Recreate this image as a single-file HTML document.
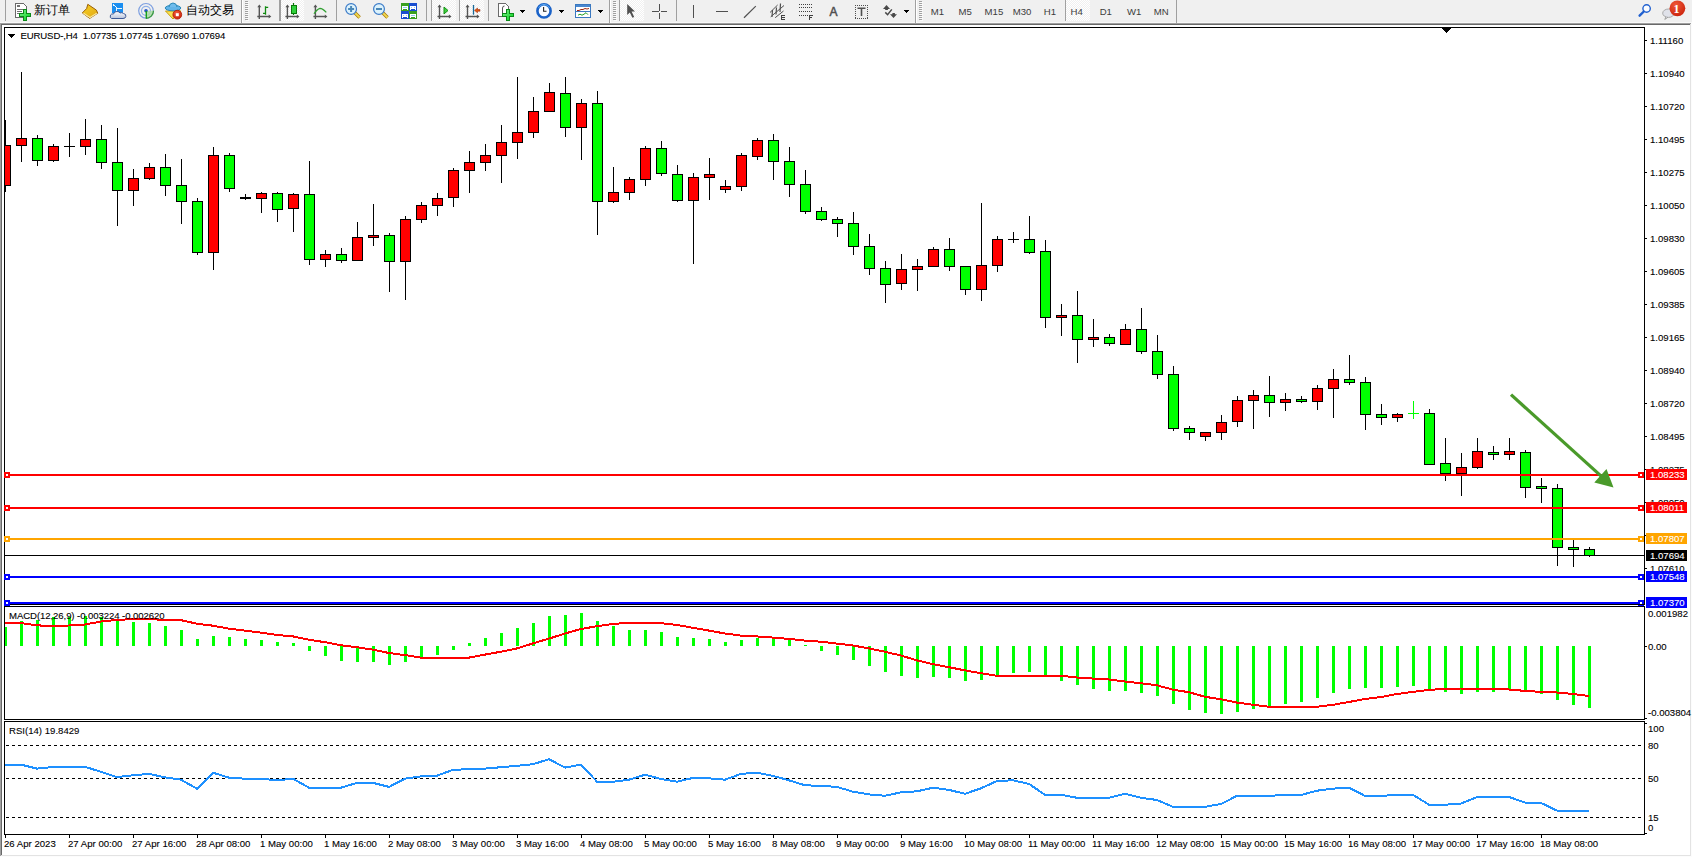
<!DOCTYPE html>
<html><head><meta charset="utf-8"><title>EURUSD-,H4</title>
<style>
html,body{margin:0;padding:0;width:1692px;height:857px;overflow:hidden;background:#fcfcfc;}
svg{position:absolute;left:0;top:0;display:block;}
.t{font-family:"Liberation Sans", Tahoma, Arial, sans-serif;font-size:9.6px;fill:#000;stroke:#000;stroke-width:0.1px;}
.p{letter-spacing:0px;}
.w{fill:#fff;stroke:#fff;}
text{font-family:"Liberation Sans", Tahoma, Arial, sans-serif;}
</style></head><body>
<svg width="1692" height="857" viewBox="0 0 1692 857" shape-rendering="crispEdges">
<g id="toolbar">
<rect x="0" y="0" width="1692" height="22" fill="#f0f0f0"/>
<rect x="0" y="22" width="1692" height="1" fill="#f9f9f9"/>
<defs><pattern id="chk" width="2" height="2" patternUnits="userSpaceOnUse"><rect width="2" height="2" fill="#f0f0f0"/><rect width="1" height="1" fill="#ffffff"/><rect x="1" y="1" width="1" height="1" fill="#ffffff"/></pattern><linearGradient id="gplus" x1="0" y1="0" x2="1" y2="1"><stop offset="0" stop-color="#7ef08a"/><stop offset="1" stop-color="#06d21e"/></linearGradient><linearGradient id="gbook" x1="0" y1="0" x2="1" y2="1"><stop offset="0" stop-color="#f8d020"/><stop offset="1" stop-color="#e0a818"/></linearGradient><linearGradient id="gcloud" x1="0" y1="0" x2="0" y2="1"><stop offset="0" stop-color="#ffffff"/><stop offset="1" stop-color="#b8c4dc"/></linearGradient><radialGradient id="gred" cx="0.4" cy="0.3" r="0.8"><stop offset="0" stop-color="#f05a3a"/><stop offset="1" stop-color="#c81e08"/></radialGradient></defs>
<rect x="5" y="0" width="1" height="21" fill="#a0a0a0"/>
<path d="M15.5 3.5h8l3 3v11h-11z" fill="#ffffff" stroke="#6a6a6a" stroke-width="1"/>
<rect x="17" y="5" width="3" height="2" fill="#707070"/>
<path d="M17 9.5h6M17 11.5h5M17 13.5h2" stroke="#707070" stroke-width="1"/>
<path d="M23 9h4v4h4v4h-4v4h-4v-4h-4v-4h4z" fill="#0b8a18"/>
<path d="M24 10h2v4h4v2h-4v4h-2v-4h-4v-2h4z" fill="url(#gplus)"/>
<text x="34" y="13.5" font-size="12" style="font-family:"Liberation Sans", "Noto Sans CJK SC", "WenQuanYi Zen Hei", sans-serif">新订单</text>
<path d="M87.8 4.3 L96.4 10.1 L97.7 13.2 L89.7 18.4 L82.3 12.9 L86.6 8.6 Z" fill="url(#gbook)" stroke="#9a6008" stroke-width="1" shape-rendering="auto"/>
<path d="M83.5 13.2 L90 17.6 L96.8 13.2" fill="none" stroke="#f8e8a0" stroke-width="1.2" shape-rendering="auto"/>
<rect x="112" y="3" width="11" height="10" fill="#1a8ef0"/><path d="M113 4.5l3 2.5v6M117 8.5h5" stroke="#e8f6ff" stroke-width="1" fill="none"/>
<path d="M111.5 18.5 Q109.5 18 110.5 15 Q111.5 13.5 113.5 14 Q114 11.5 117 11.5 Q119.5 11.5 120 13 Q122 12 123.5 13.5 Q126.5 14 125.8 16.5 Q125.5 18.5 123 18.5 Z" fill="url(#gcloud)" stroke="#3d5a96" stroke-width="1" shape-rendering="auto"/>
<g shape-rendering="auto"><circle cx="146" cy="10.8" r="7.3" fill="none" stroke="#7d9fe0" stroke-width="1.2"/><circle cx="146" cy="10.8" r="4.5" fill="none" stroke="#8fb0e8" stroke-width="1.2"/><path d="M146 10.8 L146 18.3 A7.5 7.5 0 0 0 153.5 10.8 Z" fill="#a8dca0" opacity="0.8"/><path d="M146 18.3 A7.5 7.5 0 0 0 153.5 10.8" fill="none" stroke="#3a9a3a" stroke-width="1.2"/><circle cx="146" cy="10.8" r="1.8" fill="#2858c8"/><path d="M146.3 11 V18.6" stroke="#18a018" stroke-width="1.4"/></g>
<g shape-rendering="auto"><path d="M165.5 11 L181 11 L173 19 Z" fill="#f8e050" stroke="#c8a010" stroke-width="1"/><ellipse cx="173" cy="8" rx="7.8" ry="2.8" fill="#62b4e8" stroke="#2a88b8" stroke-width="1"/><path d="M169 7 Q169.5 3 173 3 Q176.5 3 177 7" fill="#70bcec" stroke="#2a88b8" stroke-width="1"/><circle cx="177.3" cy="14.7" r="4.4" fill="url(#gred)" stroke="#b01800" stroke-width="0.8"/><rect x="175.8" y="13.2" width="3" height="3" fill="#ffffff"/></g>
<text x="186" y="13.5" font-size="12" style="font-family:"Liberation Sans", "Noto Sans CJK SC", "WenQuanYi Zen Hei", sans-serif">自动交易</text>
<rect x="241" y="0" width="1" height="23" fill="#a0a0a0"/>
<rect x="242" y="0" width="1" height="23" fill="#ffffff"/>
<rect x="245" y="1" width="3" height="1" fill="#a0a0a0"/>
<rect x="246" y="2" width="3" height="1" fill="#fbfbfb"/>
<rect x="245" y="3" width="3" height="1" fill="#a0a0a0"/>
<rect x="246" y="4" width="3" height="1" fill="#fbfbfb"/>
<rect x="245" y="5" width="3" height="1" fill="#a0a0a0"/>
<rect x="246" y="6" width="3" height="1" fill="#fbfbfb"/>
<rect x="245" y="7" width="3" height="1" fill="#a0a0a0"/>
<rect x="246" y="8" width="3" height="1" fill="#fbfbfb"/>
<rect x="245" y="9" width="3" height="1" fill="#a0a0a0"/>
<rect x="246" y="10" width="3" height="1" fill="#fbfbfb"/>
<rect x="245" y="11" width="3" height="1" fill="#a0a0a0"/>
<rect x="246" y="12" width="3" height="1" fill="#fbfbfb"/>
<rect x="245" y="13" width="3" height="1" fill="#a0a0a0"/>
<rect x="246" y="14" width="3" height="1" fill="#fbfbfb"/>
<rect x="245" y="15" width="3" height="1" fill="#a0a0a0"/>
<rect x="246" y="16" width="3" height="1" fill="#fbfbfb"/>
<rect x="245" y="17" width="3" height="1" fill="#a0a0a0"/>
<rect x="246" y="18" width="3" height="1" fill="#fbfbfb"/>
<rect x="245" y="19" width="3" height="1" fill="#a0a0a0"/>
<rect x="246" y="20" width="3" height="1" fill="#fbfbfb"/>
<g shape-rendering="auto" stroke="#555" fill="#555"><path d="M259.3 6V19M257.3 16.5H269.3" stroke-width="1.4" fill="none"/><path d="M257.3 7.2 L259.3 4.6 L261.3 7.2 Z" stroke="none"/><path d="M268.7 14.5 L271.3 16.5 L268.7 18.5 Z" stroke="none"/></g>
<path d="M265.5 6.2V14.8M265.5 7.4H268.2M263 13.4H265.5" stroke="#108a10" stroke-width="1.3" fill="none" shape-rendering="auto"/>
<rect x="279" y="0" width="1" height="21" fill="#a0a0a0"/>
<rect x="280" y="0" width="24" height="21" fill="url(#chk)"/>
<rect x="280" y="0" width="1" height="21" fill="#a0a0a0"/>
<g shape-rendering="auto" stroke="#555" fill="#555"><path d="M287.4 6V19M285.4 16.5H297.4" stroke-width="1.4" fill="none"/><path d="M285.4 7.2 L287.4 4.6 L289.4 7.2 Z" stroke="none"/><path d="M296.79999999999995 14.5 L299.4 16.5 L296.79999999999995 18.5 Z" stroke="none"/></g>
<path d="M293.5 3V15" stroke="#0a7a0a" stroke-width="1.2" shape-rendering="auto"/>
<rect x="291" y="5" width="5" height="8" fill="#2ed03a" stroke="#0a7a0a" stroke-width="1"/>
<g shape-rendering="auto" stroke="#555" fill="#555"><path d="M315.4 6V19M313.4 16.5H325.4" stroke-width="1.4" fill="none"/><path d="M313.4 7.2 L315.4 4.6 L317.4 7.2 Z" stroke="none"/><path d="M324.79999999999995 14.5 L327.4 16.5 L324.79999999999995 18.5 Z" stroke="none"/></g>
<path d="M314 13.8 Q317 9 320 8.3 Q322.5 8.3 326.3 12.3" stroke="#30a030" stroke-width="1.2" fill="none" shape-rendering="auto"/>
<rect x="336" y="0" width="1" height="21" fill="#a0a0a0"/>
<g shape-rendering="auto"><path d="M354.6 12.5 L359.6 17.5" stroke="#a87808" stroke-width="3.4"/><path d="M354.6 12.5 L359.6 17.5" stroke="#f0d850" stroke-width="1.8"/><circle cx="351.1" cy="9" r="5.4" fill="#dcf2fc" stroke="#3a7ac8" stroke-width="1.2"/><path d="M348.1 9H354.1" stroke="#4a88b8" stroke-width="2"/><path d="M351.1 6V12" stroke="#4a88b8" stroke-width="2"/></g>
<g shape-rendering="auto"><path d="M382.5 12.5 L387.5 17.5" stroke="#a87808" stroke-width="3.4"/><path d="M382.5 12.5 L387.5 17.5" stroke="#f0d850" stroke-width="1.8"/><circle cx="379" cy="9" r="5.4" fill="#dcf2fc" stroke="#3a7ac8" stroke-width="1.2"/><path d="M376 9H382" stroke="#4a88b8" stroke-width="2"/></g>
<rect x="401" y="3" width="8" height="8" fill="#3aa020"/><rect x="409" y="3" width="8" height="8" fill="#1a4ed0"/>
<rect x="401" y="11" width="8" height="8" fill="#1a4ed0"/><rect x="409" y="11" width="8" height="8" fill="#3aa020"/>
<path d="M402 6h6v4h-1v-1h-4v1h-1zM410 6h6v4h-1v-1h-4v1h-1zM402 14h6v4h-1v-1h-4v1h-1zM410 14h6v4h-1v-1h-4v1h-1z" fill="#ffffff"/>
<path d="M403 7.5h4M411 7.5h1M414 7.5h1M403 15.5h1M406 15.5h1M411 15.5h4" stroke="#90c8f0" stroke-width="1"/>
<rect x="426" y="0" width="1" height="21" fill="#a0a0a0"/>
<rect x="431" y="0" width="25" height="21" fill="url(#chk)"/>
<rect x="431" y="0" width="1" height="21" fill="#a0a0a0"/>
<g shape-rendering="auto" stroke="#555" fill="#555"><path d="M439.5 6V19M437.5 16.5H449.5" stroke-width="1.4" fill="none"/><path d="M437.5 7.2 L439.5 4.6 L441.5 7.2 Z" stroke="none"/><path d="M448.9 14.5 L451.5 16.5 L448.9 18.5 Z" stroke="none"/></g>
<path d="M444 7 L448 10.5 L444 14 Z" fill="#40d040" stroke="#109010" stroke-width="1" shape-rendering="auto"/>
<rect x="459" y="0" width="25" height="21" fill="url(#chk)"/>
<rect x="459" y="0" width="1" height="21" fill="#a0a0a0"/>
<g shape-rendering="auto" stroke="#555" fill="#555"><path d="M467.5 6V19M465.5 16.5H477.5" stroke-width="1.4" fill="none"/><path d="M465.5 7.2 L467.5 4.6 L469.5 7.2 Z" stroke="none"/><path d="M476.9 14.5 L479.5 16.5 L476.9 18.5 Z" stroke="none"/></g>
<path d="M473.5 5V14.7" stroke="#1a6a9a" stroke-width="1.3" shape-rendering="auto"/>
<path d="M474.5 10.4 L477.5 8 L477.5 9.6 L480 9.6 L480 11.2 L477.5 11.2 L477.5 12.8 Z" fill="#e85a10" stroke="#902000" stroke-width="0.5" shape-rendering="auto"/>
<rect x="488" y="0" width="1" height="21" fill="#a0a0a0"/>
<path d="M498.5 3.5h7l3 3v10h-10z" fill="#ffffff" stroke="#6a6a6a" stroke-width="1"/>
<path d="M502.5 14 V8 Q502.5 6 504.5 6" stroke="#555" stroke-width="1" fill="none" shape-rendering="auto"/>
<path d="M506 9h4v4h4v4h-4v4h-4v-4h-4v-4h4z" fill="#0b8a18"/>
<path d="M507 10h2v4h4v2h-4v4h-2v-4h-4v-2h4z" fill="url(#gplus)"/>
<path d="M520 10h5v1h-1v1h-1v1h-1v-1h-1v-1h-1z" fill="#000"/>
<g shape-rendering="auto"><circle cx="544" cy="10.9" r="6.6" fill="#f8fbff" stroke="#1a62c8" stroke-width="2.6"/><path d="M538.5 8 A6 6 0 0 1 549.5 8" fill="none" stroke="#5aa8f0" stroke-width="1"/><path d="M543.6 7V11.2H546.5" stroke="#222" stroke-width="1.1" fill="none"/></g>
<path d="M559 10h5v1h-1v1h-1v1h-1v-1h-1v-1h-1z" fill="#000"/>
<rect x="575.5" y="4.5" width="15" height="13" fill="#ffffff" stroke="#3a78c0"/>
<rect x="576" y="5" width="14" height="2" fill="#4a88d0"/><rect x="576" y="11" width="14" height="1" fill="#3a78c0"/>
<path d="M577 10.5l2 0 2-1 2 0 2-1 2 0.5 2-0.5" stroke="#a02810" fill="none" stroke-width="1" shape-rendering="auto"/>
<path d="M578 15.2l2-1 2 1 2-1 2-1.5 2 2" stroke="#20a020" fill="none" stroke-width="1" shape-rendering="auto"/>
<path d="M598 10h5v1h-1v1h-1v1h-1v-1h-1v-1h-1z" fill="#000"/>
<rect x="609" y="0" width="1" height="23" fill="#a0a0a0"/>
<rect x="610" y="0" width="1" height="23" fill="#ffffff"/>
<rect x="613" y="1" width="3" height="1" fill="#a0a0a0"/>
<rect x="614" y="2" width="3" height="1" fill="#fbfbfb"/>
<rect x="613" y="3" width="3" height="1" fill="#a0a0a0"/>
<rect x="614" y="4" width="3" height="1" fill="#fbfbfb"/>
<rect x="613" y="5" width="3" height="1" fill="#a0a0a0"/>
<rect x="614" y="6" width="3" height="1" fill="#fbfbfb"/>
<rect x="613" y="7" width="3" height="1" fill="#a0a0a0"/>
<rect x="614" y="8" width="3" height="1" fill="#fbfbfb"/>
<rect x="613" y="9" width="3" height="1" fill="#a0a0a0"/>
<rect x="614" y="10" width="3" height="1" fill="#fbfbfb"/>
<rect x="613" y="11" width="3" height="1" fill="#a0a0a0"/>
<rect x="614" y="12" width="3" height="1" fill="#fbfbfb"/>
<rect x="613" y="13" width="3" height="1" fill="#a0a0a0"/>
<rect x="614" y="14" width="3" height="1" fill="#fbfbfb"/>
<rect x="613" y="15" width="3" height="1" fill="#a0a0a0"/>
<rect x="614" y="16" width="3" height="1" fill="#fbfbfb"/>
<rect x="613" y="17" width="3" height="1" fill="#a0a0a0"/>
<rect x="614" y="18" width="3" height="1" fill="#fbfbfb"/>
<rect x="613" y="19" width="3" height="1" fill="#a0a0a0"/>
<rect x="614" y="20" width="3" height="1" fill="#fbfbfb"/>
<rect x="619" y="0" width="25" height="21" fill="url(#chk)"/>
<rect x="619" y="0" width="1" height="21" fill="#a0a0a0"/>
<path d="M627.2 4 L627.2 15 L629.8 12.4 L632.4 17.8 L634.2 17 L631.6 11.6 L635 11.6 Z" fill="#505050" shape-rendering="auto"/>
<path d="M659.5 4V10.5M659.5 12.5V19M652 11.5H658.5M660.5 11.5H667" stroke="#505050" stroke-width="1"/>
<rect x="676" y="0" width="1" height="21" fill="#a0a0a0"/>
<path d="M693.5 5V18" stroke="#505050" stroke-width="1.2"/>
<path d="M716 11.5H728" stroke="#505050" stroke-width="1.2"/>
<path d="M744 17.7 L755.8 6.1" stroke="#505050" stroke-width="1.2" shape-rendering="auto"/>
<g shape-rendering="auto" stroke="#505050" stroke-width="1" fill="none"><path d="M770 12.5 L777.6 5 M770.7 16.8 L784 5.5 M775.2 17.7 L783.5 11"/><path d="M772.5 10 L772 17 M776.5 7.5 L776 14.5 M780.5 3.5 L780 12" stroke-width="1.2"/></g>
<path d="M781 15h4v1h-3v1h3v1h-3v1h3v1h-4z" fill="#404040"/>
<rect x="799" y="4" width="1" height="1" fill="#404040"/>
<rect x="801" y="4" width="1" height="1" fill="#404040"/>
<rect x="803" y="4" width="1" height="1" fill="#404040"/>
<rect x="805" y="4" width="1" height="1" fill="#404040"/>
<rect x="807" y="4" width="1" height="1" fill="#404040"/>
<rect x="809" y="4" width="1" height="1" fill="#404040"/>
<rect x="811" y="4" width="1" height="1" fill="#404040"/>
<rect x="799" y="7" width="1" height="1" fill="#404040"/>
<rect x="801" y="7" width="1" height="1" fill="#404040"/>
<rect x="803" y="7" width="1" height="1" fill="#404040"/>
<rect x="805" y="7" width="1" height="1" fill="#404040"/>
<rect x="807" y="7" width="1" height="1" fill="#404040"/>
<rect x="809" y="7" width="1" height="1" fill="#404040"/>
<rect x="811" y="7" width="1" height="1" fill="#404040"/>
<rect x="799" y="11" width="1" height="1" fill="#404040"/>
<rect x="801" y="11" width="1" height="1" fill="#404040"/>
<rect x="803" y="11" width="1" height="1" fill="#404040"/>
<rect x="805" y="11" width="1" height="1" fill="#404040"/>
<rect x="807" y="11" width="1" height="1" fill="#404040"/>
<rect x="809" y="11" width="1" height="1" fill="#404040"/>
<rect x="811" y="11" width="1" height="1" fill="#404040"/>
<rect x="799" y="15" width="1" height="1" fill="#404040"/>
<rect x="801" y="15" width="1" height="1" fill="#404040"/>
<rect x="803" y="15" width="1" height="1" fill="#404040"/>
<rect x="805" y="15" width="1" height="1" fill="#404040"/>
<rect x="807" y="15" width="1" height="1" fill="#404040"/>
<path d="M809 15h4v1h-3v1h2v1h-2v2h-1z" fill="#404040"/>
<text x="829.4" y="16" font-size="12" fill="#505050" stroke="#505050" stroke-width="0.5" style="font-family:"Liberation Sans", Tahoma, Arial, sans-serif">A</text>
<rect x="855" y="5" width="1" height="1" fill="#505050"/><rect x="855" y="18" width="1" height="1" fill="#505050"/>
<rect x="857" y="5" width="1" height="1" fill="#505050"/><rect x="857" y="18" width="1" height="1" fill="#505050"/>
<rect x="859" y="5" width="1" height="1" fill="#505050"/><rect x="859" y="18" width="1" height="1" fill="#505050"/>
<rect x="861" y="5" width="1" height="1" fill="#505050"/><rect x="861" y="18" width="1" height="1" fill="#505050"/>
<rect x="863" y="5" width="1" height="1" fill="#505050"/><rect x="863" y="18" width="1" height="1" fill="#505050"/>
<rect x="865" y="5" width="1" height="1" fill="#505050"/><rect x="865" y="18" width="1" height="1" fill="#505050"/>
<rect x="867" y="5" width="1" height="1" fill="#505050"/><rect x="867" y="18" width="1" height="1" fill="#505050"/>
<rect x="855" y="5" width="1" height="1" fill="#505050"/><rect x="867" y="5" width="1" height="1" fill="#505050"/>
<rect x="855" y="7" width="1" height="1" fill="#505050"/><rect x="867" y="7" width="1" height="1" fill="#505050"/>
<rect x="855" y="9" width="1" height="1" fill="#505050"/><rect x="867" y="9" width="1" height="1" fill="#505050"/>
<rect x="855" y="11" width="1" height="1" fill="#505050"/><rect x="867" y="11" width="1" height="1" fill="#505050"/>
<rect x="855" y="13" width="1" height="1" fill="#505050"/><rect x="867" y="13" width="1" height="1" fill="#505050"/>
<rect x="855" y="15" width="1" height="1" fill="#505050"/><rect x="867" y="15" width="1" height="1" fill="#505050"/>
<rect x="855" y="17" width="1" height="1" fill="#505050"/><rect x="867" y="17" width="1" height="1" fill="#505050"/>
<path d="M857.5 7.5h8v1.6h-3.2v7h-1.6v-7h-3.2z" fill="#505050" shape-rendering="auto"/>
<g shape-rendering="auto"><path d="M883 8.9 L886.5 5 L890 8.9 L887.9 8.9 L887.9 10 L885.2 10 L885.2 8.9 Z M890 14.3 L892.4 14.3 L892.4 13.1 L894.9 13.1 L894.9 14.3 L897 14.3 L893.5 18.1 Z" fill="#484848"/><path d="M885.3 12.4 L887.6 14.7 L891.8 9.4" stroke="#484848" fill="none" stroke-width="1.5"/></g>
<path d="M904 10h5v1h-1v1h-1v1h-1v-1h-1v-1h-1z" fill="#000"/>
<rect x="915" y="0" width="1" height="23" fill="#a0a0a0"/>
<rect x="916" y="0" width="1" height="23" fill="#ffffff"/>
<rect x="919" y="1" width="3" height="1" fill="#a0a0a0"/>
<rect x="920" y="2" width="3" height="1" fill="#fbfbfb"/>
<rect x="919" y="3" width="3" height="1" fill="#a0a0a0"/>
<rect x="920" y="4" width="3" height="1" fill="#fbfbfb"/>
<rect x="919" y="5" width="3" height="1" fill="#a0a0a0"/>
<rect x="920" y="6" width="3" height="1" fill="#fbfbfb"/>
<rect x="919" y="7" width="3" height="1" fill="#a0a0a0"/>
<rect x="920" y="8" width="3" height="1" fill="#fbfbfb"/>
<rect x="919" y="9" width="3" height="1" fill="#a0a0a0"/>
<rect x="920" y="10" width="3" height="1" fill="#fbfbfb"/>
<rect x="919" y="11" width="3" height="1" fill="#a0a0a0"/>
<rect x="920" y="12" width="3" height="1" fill="#fbfbfb"/>
<rect x="919" y="13" width="3" height="1" fill="#a0a0a0"/>
<rect x="920" y="14" width="3" height="1" fill="#fbfbfb"/>
<rect x="919" y="15" width="3" height="1" fill="#a0a0a0"/>
<rect x="920" y="16" width="3" height="1" fill="#fbfbfb"/>
<rect x="919" y="17" width="3" height="1" fill="#a0a0a0"/>
<rect x="920" y="18" width="3" height="1" fill="#fbfbfb"/>
<rect x="919" y="19" width="3" height="1" fill="#a0a0a0"/>
<rect x="920" y="20" width="3" height="1" fill="#fbfbfb"/>
<rect x="1065" y="0" width="25" height="21" fill="url(#chk)"/>
<rect x="1065" y="0" width="1" height="21" fill="#a0a0a0"/>
<text x="930.7" y="14.6" font-size="9.6" fill="#3c3c3c" style="font-family:"Liberation Sans", Tahoma, Arial, sans-serif">M1</text>
<text x="958.4" y="14.6" font-size="9.6" fill="#3c3c3c" style="font-family:"Liberation Sans", Tahoma, Arial, sans-serif">M5</text>
<text x="984.6" y="14.6" font-size="9.6" fill="#3c3c3c" style="font-family:"Liberation Sans", Tahoma, Arial, sans-serif">M15</text>
<text x="1012.8" y="14.6" font-size="9.6" fill="#3c3c3c" style="font-family:"Liberation Sans", Tahoma, Arial, sans-serif">M30</text>
<text x="1043.8" y="14.6" font-size="9.6" fill="#3c3c3c" style="font-family:"Liberation Sans", Tahoma, Arial, sans-serif">H1</text>
<text x="1070.5" y="14.6" font-size="9.6" fill="#3c3c3c" style="font-family:"Liberation Sans", Tahoma, Arial, sans-serif">H4</text>
<text x="1099.7" y="14.6" font-size="9.6" fill="#3c3c3c" style="font-family:"Liberation Sans", Tahoma, Arial, sans-serif">D1</text>
<text x="1127" y="14.6" font-size="9.6" fill="#3c3c3c" style="font-family:"Liberation Sans", Tahoma, Arial, sans-serif">W1</text>
<text x="1153.7" y="14.6" font-size="9.6" fill="#3c3c3c" style="font-family:"Liberation Sans", Tahoma, Arial, sans-serif">MN</text>
<rect x="1176" y="0" width="1" height="23" fill="#a0a0a0"/>
<g shape-rendering="auto"><circle cx="1646.6" cy="8.5" r="3.7" fill="#fafcff" stroke="#2060d0" stroke-width="1.4"/><path d="M1643.8 11.5 L1639.6 15.7" stroke="#2060d0" stroke-width="2.4" stroke-linecap="round"/><ellipse cx="1668.5" cy="13.2" rx="5.8" ry="4.2" fill="#e0e2ea" stroke="#a8a8a8"/><path d="M1666 16.8l-1.2 2.6 3.2-2.2" fill="#e0e2ea" stroke="#a0a0a0"/><circle cx="1677.4" cy="8.3" r="7.9" fill="url(#gred)"/></g>
<text x="1673.6" y="12.8" font-size="12" font-weight="bold" fill="#fff" style="font-family:'Liberation Serif', serif">1</text>
</g>
<g id="chart">
<rect x="0" y="23" width="1691" height="1" fill="#a0a0a0"/>
<rect x="0" y="23" width="1" height="833" fill="#a0a0a0"/>
<rect x="1" y="24" width="1689" height="1" fill="#696969"/>
<rect x="1" y="24" width="1" height="831" fill="#696969"/>
<rect x="2" y="25" width="1688" height="830" fill="#ffffff"/>
<rect x="1690" y="24" width="1" height="832" fill="#e3e3e3"/>
<rect x="1" y="855" width="1690" height="1" fill="#e3e3e3"/>
<defs><clipPath id="cm"><rect x="5" y="28" width="1639" height="576"/></clipPath><clipPath id="cd"><rect x="5" y="607" width="1639" height="112"/></clipPath><clipPath id="cr"><rect x="5" y="722" width="1639" height="112"/></clipPath></defs>
<g clip-path="url(#cm)">
<rect x="5" y="120" width="1" height="72" fill="#000"/>
<rect x="0" y="145" width="11" height="41" fill="#000"/>
<rect x="1" y="146" width="9" height="39" fill="#ff0000"/>
<rect x="21" y="72" width="1" height="90" fill="#000"/>
<rect x="16" y="138" width="11" height="8" fill="#000"/>
<rect x="17" y="139" width="9" height="6" fill="#ff0000"/>
<rect x="37" y="135" width="1" height="31" fill="#000"/>
<rect x="32" y="138" width="11" height="23" fill="#000"/>
<rect x="33" y="139" width="9" height="21" fill="#00ff00"/>
<rect x="53" y="144" width="1" height="18" fill="#000"/>
<rect x="48" y="146" width="11" height="15" fill="#000"/>
<rect x="49" y="147" width="9" height="13" fill="#ff0000"/>
<rect x="69" y="133" width="1" height="24" fill="#000"/>
<rect x="64" y="146" width="11" height="1" fill="#000"/>
<rect x="85" y="119" width="1" height="36" fill="#000"/>
<rect x="80" y="139" width="11" height="8" fill="#000"/>
<rect x="81" y="140" width="9" height="6" fill="#ff0000"/>
<rect x="101" y="125" width="1" height="44" fill="#000"/>
<rect x="96" y="139" width="11" height="24" fill="#000"/>
<rect x="97" y="140" width="9" height="22" fill="#00ff00"/>
<rect x="117" y="128" width="1" height="98" fill="#000"/>
<rect x="112" y="162" width="11" height="29" fill="#000"/>
<rect x="113" y="163" width="9" height="27" fill="#00ff00"/>
<rect x="133" y="169" width="1" height="37" fill="#000"/>
<rect x="128" y="178" width="11" height="13" fill="#000"/>
<rect x="129" y="179" width="9" height="11" fill="#ff0000"/>
<rect x="149" y="163" width="1" height="17" fill="#000"/>
<rect x="144" y="167" width="11" height="12" fill="#000"/>
<rect x="145" y="168" width="9" height="10" fill="#ff0000"/>
<rect x="165" y="154" width="1" height="42" fill="#000"/>
<rect x="160" y="167" width="11" height="19" fill="#000"/>
<rect x="161" y="168" width="9" height="17" fill="#00ff00"/>
<rect x="181" y="159" width="1" height="65" fill="#000"/>
<rect x="176" y="185" width="11" height="17" fill="#000"/>
<rect x="177" y="186" width="9" height="15" fill="#00ff00"/>
<rect x="197" y="198" width="1" height="57" fill="#000"/>
<rect x="192" y="201" width="11" height="52" fill="#000"/>
<rect x="193" y="202" width="9" height="50" fill="#00ff00"/>
<rect x="213" y="147" width="1" height="123" fill="#000"/>
<rect x="208" y="155" width="11" height="98" fill="#000"/>
<rect x="209" y="156" width="9" height="96" fill="#ff0000"/>
<rect x="229" y="153" width="1" height="39" fill="#000"/>
<rect x="224" y="155" width="11" height="34" fill="#000"/>
<rect x="225" y="156" width="9" height="32" fill="#00ff00"/>
<rect x="245" y="194" width="1" height="6" fill="#000"/>
<rect x="240" y="197" width="11" height="2" fill="#000"/>
<rect x="261" y="192" width="1" height="21" fill="#000"/>
<rect x="256" y="193" width="11" height="6" fill="#000"/>
<rect x="257" y="194" width="9" height="4" fill="#ff0000"/>
<rect x="277" y="192" width="1" height="30" fill="#000"/>
<rect x="272" y="193" width="11" height="17" fill="#000"/>
<rect x="273" y="194" width="9" height="15" fill="#00ff00"/>
<rect x="293" y="193" width="1" height="39" fill="#000"/>
<rect x="288" y="194" width="11" height="15" fill="#000"/>
<rect x="289" y="195" width="9" height="13" fill="#ff0000"/>
<rect x="309" y="161" width="1" height="104" fill="#000"/>
<rect x="304" y="194" width="11" height="66" fill="#000"/>
<rect x="305" y="195" width="9" height="64" fill="#00ff00"/>
<rect x="325" y="250" width="1" height="17" fill="#000"/>
<rect x="320" y="254" width="11" height="6" fill="#000"/>
<rect x="321" y="255" width="9" height="4" fill="#ff0000"/>
<rect x="341" y="248" width="1" height="15" fill="#000"/>
<rect x="336" y="254" width="11" height="7" fill="#000"/>
<rect x="337" y="255" width="9" height="5" fill="#00ff00"/>
<rect x="357" y="222" width="1" height="39" fill="#000"/>
<rect x="352" y="237" width="11" height="24" fill="#000"/>
<rect x="353" y="238" width="9" height="22" fill="#ff0000"/>
<rect x="373" y="204" width="1" height="42" fill="#000"/>
<rect x="368" y="235" width="11" height="3" fill="#000"/>
<rect x="369" y="236" width="9" height="1" fill="#ff0000"/>
<rect x="389" y="233" width="1" height="59" fill="#000"/>
<rect x="384" y="235" width="11" height="27" fill="#000"/>
<rect x="385" y="236" width="9" height="25" fill="#00ff00"/>
<rect x="405" y="216" width="1" height="84" fill="#000"/>
<rect x="400" y="219" width="11" height="43" fill="#000"/>
<rect x="401" y="220" width="9" height="41" fill="#ff0000"/>
<rect x="421" y="202" width="1" height="21" fill="#000"/>
<rect x="416" y="205" width="11" height="15" fill="#000"/>
<rect x="417" y="206" width="9" height="13" fill="#ff0000"/>
<rect x="437" y="193" width="1" height="23" fill="#000"/>
<rect x="432" y="198" width="11" height="8" fill="#000"/>
<rect x="433" y="199" width="9" height="6" fill="#ff0000"/>
<rect x="453" y="168" width="1" height="39" fill="#000"/>
<rect x="448" y="170" width="11" height="28" fill="#000"/>
<rect x="449" y="171" width="9" height="26" fill="#ff0000"/>
<rect x="469" y="151" width="1" height="42" fill="#000"/>
<rect x="464" y="162" width="11" height="9" fill="#000"/>
<rect x="465" y="163" width="9" height="7" fill="#ff0000"/>
<rect x="485" y="144" width="1" height="27" fill="#000"/>
<rect x="480" y="155" width="11" height="8" fill="#000"/>
<rect x="481" y="156" width="9" height="6" fill="#ff0000"/>
<rect x="501" y="125" width="1" height="58" fill="#000"/>
<rect x="496" y="142" width="11" height="14" fill="#000"/>
<rect x="497" y="143" width="9" height="12" fill="#ff0000"/>
<rect x="517" y="77" width="1" height="82" fill="#000"/>
<rect x="512" y="132" width="11" height="11" fill="#000"/>
<rect x="513" y="133" width="9" height="9" fill="#ff0000"/>
<rect x="533" y="97" width="1" height="41" fill="#000"/>
<rect x="528" y="111" width="11" height="22" fill="#000"/>
<rect x="529" y="112" width="9" height="20" fill="#ff0000"/>
<rect x="549" y="83" width="1" height="29" fill="#000"/>
<rect x="544" y="92" width="11" height="20" fill="#000"/>
<rect x="545" y="93" width="9" height="18" fill="#ff0000"/>
<rect x="565" y="77" width="1" height="60" fill="#000"/>
<rect x="560" y="93" width="11" height="35" fill="#000"/>
<rect x="561" y="94" width="9" height="33" fill="#00ff00"/>
<rect x="581" y="99" width="1" height="61" fill="#000"/>
<rect x="576" y="103" width="11" height="25" fill="#000"/>
<rect x="577" y="104" width="9" height="23" fill="#ff0000"/>
<rect x="597" y="91" width="1" height="144" fill="#000"/>
<rect x="592" y="103" width="11" height="99" fill="#000"/>
<rect x="593" y="104" width="9" height="97" fill="#00ff00"/>
<rect x="613" y="167" width="1" height="36" fill="#000"/>
<rect x="608" y="192" width="11" height="10" fill="#000"/>
<rect x="609" y="193" width="9" height="8" fill="#ff0000"/>
<rect x="629" y="177" width="1" height="23" fill="#000"/>
<rect x="624" y="179" width="11" height="14" fill="#000"/>
<rect x="625" y="180" width="9" height="12" fill="#ff0000"/>
<rect x="645" y="146" width="1" height="40" fill="#000"/>
<rect x="640" y="148" width="11" height="32" fill="#000"/>
<rect x="641" y="149" width="9" height="30" fill="#ff0000"/>
<rect x="661" y="141" width="1" height="35" fill="#000"/>
<rect x="656" y="148" width="11" height="26" fill="#000"/>
<rect x="657" y="149" width="9" height="24" fill="#00ff00"/>
<rect x="677" y="165" width="1" height="37" fill="#000"/>
<rect x="672" y="174" width="11" height="27" fill="#000"/>
<rect x="673" y="175" width="9" height="25" fill="#00ff00"/>
<rect x="693" y="173" width="1" height="91" fill="#000"/>
<rect x="688" y="177" width="11" height="24" fill="#000"/>
<rect x="689" y="178" width="9" height="22" fill="#ff0000"/>
<rect x="709" y="158" width="1" height="42" fill="#000"/>
<rect x="704" y="174" width="11" height="4" fill="#000"/>
<rect x="705" y="175" width="9" height="2" fill="#ff0000"/>
<rect x="725" y="180" width="1" height="13" fill="#000"/>
<rect x="720" y="186" width="11" height="4" fill="#000"/>
<rect x="721" y="187" width="9" height="2" fill="#ff0000"/>
<rect x="741" y="153" width="1" height="38" fill="#000"/>
<rect x="736" y="155" width="11" height="32" fill="#000"/>
<rect x="737" y="156" width="9" height="30" fill="#ff0000"/>
<rect x="757" y="138" width="1" height="22" fill="#000"/>
<rect x="752" y="140" width="11" height="17" fill="#000"/>
<rect x="753" y="141" width="9" height="15" fill="#ff0000"/>
<rect x="773" y="134" width="1" height="46" fill="#000"/>
<rect x="768" y="140" width="11" height="22" fill="#000"/>
<rect x="769" y="141" width="9" height="20" fill="#00ff00"/>
<rect x="789" y="147" width="1" height="50" fill="#000"/>
<rect x="784" y="161" width="11" height="24" fill="#000"/>
<rect x="785" y="162" width="9" height="22" fill="#00ff00"/>
<rect x="805" y="170" width="1" height="44" fill="#000"/>
<rect x="800" y="184" width="11" height="28" fill="#000"/>
<rect x="801" y="185" width="9" height="26" fill="#00ff00"/>
<rect x="821" y="207" width="1" height="14" fill="#000"/>
<rect x="816" y="211" width="11" height="9" fill="#000"/>
<rect x="817" y="212" width="9" height="7" fill="#00ff00"/>
<rect x="837" y="217" width="1" height="20" fill="#000"/>
<rect x="832" y="219" width="11" height="5" fill="#000"/>
<rect x="833" y="220" width="9" height="3" fill="#00ff00"/>
<rect x="853" y="212" width="1" height="43" fill="#000"/>
<rect x="848" y="223" width="11" height="24" fill="#000"/>
<rect x="849" y="224" width="9" height="22" fill="#00ff00"/>
<rect x="869" y="234" width="1" height="41" fill="#000"/>
<rect x="864" y="246" width="11" height="23" fill="#000"/>
<rect x="865" y="247" width="9" height="21" fill="#00ff00"/>
<rect x="885" y="261" width="1" height="42" fill="#000"/>
<rect x="880" y="268" width="11" height="17" fill="#000"/>
<rect x="881" y="269" width="9" height="15" fill="#00ff00"/>
<rect x="901" y="254" width="1" height="36" fill="#000"/>
<rect x="896" y="269" width="11" height="15" fill="#000"/>
<rect x="897" y="270" width="9" height="13" fill="#ff0000"/>
<rect x="917" y="259" width="1" height="32" fill="#000"/>
<rect x="912" y="266" width="11" height="4" fill="#000"/>
<rect x="913" y="267" width="9" height="2" fill="#ff0000"/>
<rect x="933" y="247" width="1" height="20" fill="#000"/>
<rect x="928" y="249" width="11" height="18" fill="#000"/>
<rect x="929" y="250" width="9" height="16" fill="#ff0000"/>
<rect x="949" y="238" width="1" height="33" fill="#000"/>
<rect x="944" y="249" width="11" height="18" fill="#000"/>
<rect x="945" y="250" width="9" height="16" fill="#00ff00"/>
<rect x="965" y="266" width="1" height="29" fill="#000"/>
<rect x="960" y="266" width="11" height="24" fill="#000"/>
<rect x="961" y="267" width="9" height="22" fill="#00ff00"/>
<rect x="981" y="203" width="1" height="98" fill="#000"/>
<rect x="976" y="265" width="11" height="25" fill="#000"/>
<rect x="977" y="266" width="9" height="23" fill="#ff0000"/>
<rect x="997" y="236" width="1" height="36" fill="#000"/>
<rect x="992" y="239" width="11" height="27" fill="#000"/>
<rect x="993" y="240" width="9" height="25" fill="#ff0000"/>
<rect x="1013" y="232" width="1" height="11" fill="#000"/>
<rect x="1008" y="239" width="11" height="1" fill="#000"/>
<rect x="1029" y="216" width="1" height="38" fill="#000"/>
<rect x="1024" y="239" width="11" height="14" fill="#000"/>
<rect x="1025" y="240" width="9" height="12" fill="#00ff00"/>
<rect x="1045" y="240" width="1" height="88" fill="#000"/>
<rect x="1040" y="251" width="11" height="67" fill="#000"/>
<rect x="1041" y="252" width="9" height="65" fill="#00ff00"/>
<rect x="1061" y="304" width="1" height="32" fill="#000"/>
<rect x="1056" y="315" width="11" height="3" fill="#000"/>
<rect x="1057" y="316" width="9" height="1" fill="#ff0000"/>
<rect x="1077" y="291" width="1" height="72" fill="#000"/>
<rect x="1072" y="315" width="11" height="25" fill="#000"/>
<rect x="1073" y="316" width="9" height="23" fill="#00ff00"/>
<rect x="1093" y="319" width="1" height="28" fill="#000"/>
<rect x="1088" y="337" width="11" height="3" fill="#000"/>
<rect x="1089" y="338" width="9" height="1" fill="#ff0000"/>
<rect x="1109" y="334" width="1" height="12" fill="#000"/>
<rect x="1104" y="337" width="11" height="7" fill="#000"/>
<rect x="1105" y="338" width="9" height="5" fill="#00ff00"/>
<rect x="1125" y="324" width="1" height="21" fill="#000"/>
<rect x="1120" y="329" width="11" height="16" fill="#000"/>
<rect x="1121" y="330" width="9" height="14" fill="#ff0000"/>
<rect x="1141" y="308" width="1" height="46" fill="#000"/>
<rect x="1136" y="329" width="11" height="23" fill="#000"/>
<rect x="1137" y="330" width="9" height="21" fill="#00ff00"/>
<rect x="1157" y="335" width="1" height="44" fill="#000"/>
<rect x="1152" y="351" width="11" height="24" fill="#000"/>
<rect x="1153" y="352" width="9" height="22" fill="#00ff00"/>
<rect x="1173" y="366" width="1" height="65" fill="#000"/>
<rect x="1168" y="374" width="11" height="55" fill="#000"/>
<rect x="1169" y="375" width="9" height="53" fill="#00ff00"/>
<rect x="1189" y="426" width="1" height="14" fill="#000"/>
<rect x="1184" y="428" width="11" height="5" fill="#000"/>
<rect x="1185" y="429" width="9" height="3" fill="#00ff00"/>
<rect x="1205" y="432" width="1" height="9" fill="#000"/>
<rect x="1200" y="432" width="11" height="5" fill="#000"/>
<rect x="1201" y="433" width="9" height="3" fill="#ff0000"/>
<rect x="1221" y="415" width="1" height="25" fill="#000"/>
<rect x="1216" y="422" width="11" height="11" fill="#000"/>
<rect x="1217" y="423" width="9" height="9" fill="#ff0000"/>
<rect x="1237" y="396" width="1" height="31" fill="#000"/>
<rect x="1232" y="400" width="11" height="22" fill="#000"/>
<rect x="1233" y="401" width="9" height="20" fill="#ff0000"/>
<rect x="1253" y="390" width="1" height="39" fill="#000"/>
<rect x="1248" y="395" width="11" height="6" fill="#000"/>
<rect x="1249" y="396" width="9" height="4" fill="#ff0000"/>
<rect x="1269" y="376" width="1" height="41" fill="#000"/>
<rect x="1264" y="395" width="11" height="8" fill="#000"/>
<rect x="1265" y="396" width="9" height="6" fill="#00ff00"/>
<rect x="1285" y="393" width="1" height="18" fill="#000"/>
<rect x="1280" y="399" width="11" height="4" fill="#000"/>
<rect x="1281" y="400" width="9" height="2" fill="#ff0000"/>
<rect x="1301" y="396" width="1" height="7" fill="#000"/>
<rect x="1296" y="399" width="11" height="3" fill="#000"/>
<rect x="1297" y="400" width="9" height="1" fill="#00ff00"/>
<rect x="1317" y="385" width="1" height="25" fill="#000"/>
<rect x="1312" y="388" width="11" height="14" fill="#000"/>
<rect x="1313" y="389" width="9" height="12" fill="#ff0000"/>
<rect x="1333" y="369" width="1" height="49" fill="#000"/>
<rect x="1328" y="379" width="11" height="10" fill="#000"/>
<rect x="1329" y="380" width="9" height="8" fill="#ff0000"/>
<rect x="1349" y="355" width="1" height="30" fill="#000"/>
<rect x="1344" y="379" width="11" height="4" fill="#000"/>
<rect x="1345" y="380" width="9" height="2" fill="#00ff00"/>
<rect x="1365" y="377" width="1" height="53" fill="#000"/>
<rect x="1360" y="382" width="11" height="33" fill="#000"/>
<rect x="1361" y="383" width="9" height="31" fill="#00ff00"/>
<rect x="1381" y="404" width="1" height="21" fill="#000"/>
<rect x="1376" y="414" width="11" height="4" fill="#000"/>
<rect x="1377" y="415" width="9" height="2" fill="#00ff00"/>
<rect x="1397" y="413" width="1" height="9" fill="#000"/>
<rect x="1392" y="414" width="11" height="4" fill="#000"/>
<rect x="1393" y="415" width="9" height="2" fill="#ff0000"/>
<rect x="1413" y="401" width="1" height="18" fill="#00ff00"/>
<rect x="1408" y="413" width="11" height="1" fill="#00ff00"/>
<rect x="1429" y="409" width="1" height="56" fill="#000"/>
<rect x="1424" y="413" width="11" height="52" fill="#000"/>
<rect x="1425" y="414" width="9" height="50" fill="#00ff00"/>
<rect x="1445" y="438" width="1" height="43" fill="#000"/>
<rect x="1440" y="463" width="11" height="11" fill="#000"/>
<rect x="1441" y="464" width="9" height="9" fill="#00ff00"/>
<rect x="1461" y="453" width="1" height="43" fill="#000"/>
<rect x="1456" y="467" width="11" height="7" fill="#000"/>
<rect x="1457" y="468" width="9" height="5" fill="#ff0000"/>
<rect x="1477" y="438" width="1" height="31" fill="#000"/>
<rect x="1472" y="451" width="11" height="17" fill="#000"/>
<rect x="1473" y="452" width="9" height="15" fill="#ff0000"/>
<rect x="1493" y="446" width="1" height="14" fill="#000"/>
<rect x="1488" y="452" width="11" height="3" fill="#000"/>
<rect x="1489" y="453" width="9" height="1" fill="#00ff00"/>
<rect x="1509" y="438" width="1" height="22" fill="#000"/>
<rect x="1504" y="451" width="11" height="4" fill="#000"/>
<rect x="1505" y="452" width="9" height="2" fill="#ff0000"/>
<rect x="1525" y="450" width="1" height="48" fill="#000"/>
<rect x="1520" y="452" width="11" height="36" fill="#000"/>
<rect x="1521" y="453" width="9" height="34" fill="#00ff00"/>
<rect x="1541" y="478" width="1" height="25" fill="#000"/>
<rect x="1536" y="486" width="11" height="3" fill="#000"/>
<rect x="1537" y="487" width="9" height="1" fill="#00ff00"/>
<rect x="1557" y="484" width="1" height="82" fill="#000"/>
<rect x="1552" y="488" width="11" height="60" fill="#000"/>
<rect x="1553" y="489" width="9" height="58" fill="#00ff00"/>
<rect x="1573" y="540" width="1" height="27" fill="#000"/>
<rect x="1568" y="547" width="11" height="3" fill="#000"/>
<rect x="1569" y="548" width="9" height="1" fill="#00ff00"/>
<rect x="1589" y="547" width="1" height="10" fill="#000"/>
<rect x="1584" y="549" width="11" height="7" fill="#000"/>
<rect x="1585" y="550" width="9" height="5" fill="#00ff00"/>
</g>
<rect x="5" y="555" width="1639" height="1" fill="#000"/>
<rect x="5" y="474" width="1639" height="2" fill="#ff0000"/>
<rect x="4" y="472" width="6" height="6" fill="#ff0000"/>
<rect x="6" y="474" width="2" height="2" fill="#fff"/>
<rect x="1638" y="472" width="6" height="6" fill="#ff0000"/>
<rect x="1640" y="474" width="2" height="2" fill="#fff"/>
<rect x="5" y="507" width="1639" height="2" fill="#ff0000"/>
<rect x="4" y="505" width="6" height="6" fill="#ff0000"/>
<rect x="6" y="507" width="2" height="2" fill="#fff"/>
<rect x="1638" y="505" width="6" height="6" fill="#ff0000"/>
<rect x="1640" y="507" width="2" height="2" fill="#fff"/>
<rect x="5" y="538" width="1639" height="2" fill="#ffa500"/>
<rect x="4" y="536" width="6" height="6" fill="#ffa500"/>
<rect x="6" y="538" width="2" height="2" fill="#fff"/>
<rect x="1638" y="536" width="6" height="6" fill="#ffa500"/>
<rect x="1640" y="538" width="2" height="2" fill="#fff"/>
<rect x="5" y="576" width="1639" height="2" fill="#0000ff"/>
<rect x="4" y="574" width="6" height="6" fill="#0000ff"/>
<rect x="6" y="576" width="2" height="2" fill="#fff"/>
<rect x="1638" y="574" width="6" height="6" fill="#0000ff"/>
<rect x="1640" y="576" width="2" height="2" fill="#fff"/>
<rect x="5" y="602" width="1639" height="2" fill="#0000ff"/>
<rect x="4" y="600" width="6" height="6" fill="#0000ff"/>
<rect x="6" y="602" width="2" height="2" fill="#fff"/>
<rect x="1638" y="600" width="6" height="6" fill="#0000ff"/>
<rect x="1640" y="602" width="2" height="2" fill="#fff"/>
<rect x="4" y="27" width="1641" height="1" fill="#000"/>
<rect x="4" y="604" width="1641" height="1" fill="#000"/>
<rect x="4" y="27" width="1" height="578" fill="#000"/>
<rect x="1644" y="27" width="1" height="578" fill="#000"/>
<rect x="4" y="606" width="1641" height="1" fill="#000"/>
<rect x="4" y="719" width="1641" height="1" fill="#000"/>
<rect x="4" y="606" width="1" height="114" fill="#000"/>
<rect x="1644" y="606" width="1" height="114" fill="#000"/>
<rect x="4" y="721" width="1641" height="1" fill="#000"/>
<rect x="4" y="834" width="1641" height="1" fill="#000"/>
<rect x="4" y="721" width="1" height="114" fill="#000"/>
<rect x="1644" y="721" width="1" height="114" fill="#000"/>
<rect x="4" y="472" width="6" height="6" fill="#ff0000"/>
<rect x="6" y="474" width="2" height="2" fill="#fff"/>
<rect x="4" y="505" width="6" height="6" fill="#ff0000"/>
<rect x="6" y="507" width="2" height="2" fill="#fff"/>
<rect x="4" y="536" width="6" height="6" fill="#ffa500"/>
<rect x="6" y="538" width="2" height="2" fill="#fff"/>
<rect x="4" y="574" width="6" height="6" fill="#0000ff"/>
<rect x="6" y="576" width="2" height="2" fill="#fff"/>
<rect x="4" y="600" width="6" height="6" fill="#0000ff"/>
<rect x="6" y="602" width="2" height="2" fill="#fff"/>
<path d="M1442 28h9l-4.5 5z" fill="#000" shape-rendering="crispEdges"/>
<g shape-rendering="auto"><line x1="1511" y1="394.6" x2="1602" y2="476.9" stroke="#4a9a2a" stroke-width="3.3"/><path d="M1613.5 487.6 L1606.5 469 L1594.3 482.4 Z" fill="#4a9a2a"/></g>
<rect x="1645" y="40" width="2" height="1" fill="#000"/>
<text x="1650" y="44" class="t p">1.11160</text>
<rect x="1645" y="73" width="2" height="1" fill="#000"/>
<text x="1650" y="77" class="t p">1.10940</text>
<rect x="1645" y="106" width="2" height="1" fill="#000"/>
<text x="1650" y="110" class="t p">1.10720</text>
<rect x="1645" y="139" width="2" height="1" fill="#000"/>
<text x="1650" y="143" class="t p">1.10495</text>
<rect x="1645" y="172" width="2" height="1" fill="#000"/>
<text x="1650" y="176" class="t p">1.10275</text>
<rect x="1645" y="205" width="2" height="1" fill="#000"/>
<text x="1650" y="209" class="t p">1.10050</text>
<rect x="1645" y="238" width="2" height="1" fill="#000"/>
<text x="1650" y="242" class="t p">1.09830</text>
<rect x="1645" y="271" width="2" height="1" fill="#000"/>
<text x="1650" y="275" class="t p">1.09605</text>
<rect x="1645" y="304" width="2" height="1" fill="#000"/>
<text x="1650" y="308" class="t p">1.09385</text>
<rect x="1645" y="337" width="2" height="1" fill="#000"/>
<text x="1650" y="341" class="t p">1.09165</text>
<rect x="1645" y="370" width="2" height="1" fill="#000"/>
<text x="1650" y="374" class="t p">1.08940</text>
<rect x="1645" y="403" width="2" height="1" fill="#000"/>
<text x="1650" y="407" class="t p">1.08720</text>
<rect x="1645" y="436" width="2" height="1" fill="#000"/>
<text x="1650" y="440" class="t p">1.08495</text>
<rect x="1645" y="469" width="2" height="1" fill="#000"/>
<text x="1650" y="473" class="t p">1.08275</text>
<rect x="1645" y="502" width="2" height="1" fill="#000"/>
<text x="1650" y="506" class="t p">1.08050</text>
<rect x="1645" y="535" width="2" height="1" fill="#000"/>
<text x="1650" y="539" class="t p">1.07830</text>
<rect x="1645" y="568" width="2" height="1" fill="#000"/>
<text x="1650" y="572" class="t p">1.07610</text>
<rect x="1646" y="469" width="41" height="11" fill="#ff0000"/>
<text x="1650" y="478" class="t p w">1.08233</text>
<rect x="1646" y="502" width="41" height="11" fill="#ff0000"/>
<text x="1650" y="511" class="t p w">1.08011</text>
<rect x="1646" y="533" width="41" height="11" fill="#ffa500"/>
<text x="1650" y="542" class="t p w">1.07807</text>
<rect x="1646" y="550" width="41" height="11" fill="#000000"/>
<text x="1650" y="559" class="t p w">1.07694</text>
<rect x="1646" y="571" width="41" height="11" fill="#0000ff"/>
<text x="1650" y="580" class="t p w">1.07548</text>
<rect x="1646" y="597" width="41" height="11" fill="#0000ff"/>
<text x="1650" y="606" class="t p w">1.07370</text>
<g clip-path="url(#cd)">
<rect x="4" y="627" width="3" height="19" fill="#00ff00"/>
<rect x="20" y="621" width="3" height="25" fill="#00ff00"/>
<rect x="36" y="620" width="3" height="26" fill="#00ff00"/>
<rect x="52" y="617" width="3" height="29" fill="#00ff00"/>
<rect x="68" y="617" width="3" height="29" fill="#00ff00"/>
<rect x="84" y="616" width="3" height="30" fill="#00ff00"/>
<rect x="100" y="617" width="3" height="29" fill="#00ff00"/>
<rect x="116" y="621" width="3" height="25" fill="#00ff00"/>
<rect x="132" y="622" width="3" height="24" fill="#00ff00"/>
<rect x="148" y="623" width="3" height="23" fill="#00ff00"/>
<rect x="164" y="626" width="3" height="20" fill="#00ff00"/>
<rect x="180" y="630" width="3" height="16" fill="#00ff00"/>
<rect x="196" y="639" width="3" height="7" fill="#00ff00"/>
<rect x="212" y="636" width="3" height="10" fill="#00ff00"/>
<rect x="228" y="637" width="3" height="9" fill="#00ff00"/>
<rect x="244" y="639" width="3" height="7" fill="#00ff00"/>
<rect x="260" y="640" width="3" height="6" fill="#00ff00"/>
<rect x="276" y="642" width="3" height="4" fill="#00ff00"/>
<rect x="292" y="643" width="3" height="3" fill="#00ff00"/>
<rect x="308" y="646" width="3" height="5" fill="#00ff00"/>
<rect x="324" y="646" width="3" height="10" fill="#00ff00"/>
<rect x="340" y="646" width="3" height="15" fill="#00ff00"/>
<rect x="356" y="646" width="3" height="16" fill="#00ff00"/>
<rect x="372" y="646" width="3" height="16" fill="#00ff00"/>
<rect x="388" y="646" width="3" height="19" fill="#00ff00"/>
<rect x="404" y="646" width="3" height="16" fill="#00ff00"/>
<rect x="420" y="646" width="3" height="12" fill="#00ff00"/>
<rect x="436" y="646" width="3" height="9" fill="#00ff00"/>
<rect x="452" y="646" width="3" height="4" fill="#00ff00"/>
<rect x="468" y="643" width="3" height="3" fill="#00ff00"/>
<rect x="484" y="638" width="3" height="8" fill="#00ff00"/>
<rect x="500" y="633" width="3" height="13" fill="#00ff00"/>
<rect x="516" y="628" width="3" height="18" fill="#00ff00"/>
<rect x="532" y="623" width="3" height="23" fill="#00ff00"/>
<rect x="548" y="616" width="3" height="30" fill="#00ff00"/>
<rect x="564" y="615" width="3" height="31" fill="#00ff00"/>
<rect x="580" y="613" width="3" height="33" fill="#00ff00"/>
<rect x="596" y="621" width="3" height="25" fill="#00ff00"/>
<rect x="612" y="626" width="3" height="20" fill="#00ff00"/>
<rect x="628" y="630" width="3" height="16" fill="#00ff00"/>
<rect x="644" y="630" width="3" height="16" fill="#00ff00"/>
<rect x="660" y="632" width="3" height="14" fill="#00ff00"/>
<rect x="676" y="637" width="3" height="9" fill="#00ff00"/>
<rect x="692" y="638" width="3" height="8" fill="#00ff00"/>
<rect x="708" y="639" width="3" height="7" fill="#00ff00"/>
<rect x="724" y="642" width="3" height="4" fill="#00ff00"/>
<rect x="740" y="640" width="3" height="6" fill="#00ff00"/>
<rect x="756" y="638" width="3" height="8" fill="#00ff00"/>
<rect x="772" y="638" width="3" height="8" fill="#00ff00"/>
<rect x="788" y="640" width="3" height="6" fill="#00ff00"/>
<rect x="804" y="645" width="3" height="1" fill="#00ff00"/>
<rect x="820" y="646" width="3" height="5" fill="#00ff00"/>
<rect x="836" y="646" width="3" height="9" fill="#00ff00"/>
<rect x="852" y="646" width="3" height="14" fill="#00ff00"/>
<rect x="868" y="646" width="3" height="20" fill="#00ff00"/>
<rect x="884" y="646" width="3" height="26" fill="#00ff00"/>
<rect x="900" y="646" width="3" height="30" fill="#00ff00"/>
<rect x="916" y="646" width="3" height="32" fill="#00ff00"/>
<rect x="932" y="646" width="3" height="31" fill="#00ff00"/>
<rect x="948" y="646" width="3" height="32" fill="#00ff00"/>
<rect x="964" y="646" width="3" height="35" fill="#00ff00"/>
<rect x="980" y="646" width="3" height="34" fill="#00ff00"/>
<rect x="996" y="646" width="3" height="29" fill="#00ff00"/>
<rect x="1012" y="646" width="3" height="27" fill="#00ff00"/>
<rect x="1028" y="646" width="3" height="26" fill="#00ff00"/>
<rect x="1044" y="646" width="3" height="29" fill="#00ff00"/>
<rect x="1060" y="646" width="3" height="35" fill="#00ff00"/>
<rect x="1076" y="646" width="3" height="39" fill="#00ff00"/>
<rect x="1092" y="646" width="3" height="43" fill="#00ff00"/>
<rect x="1108" y="646" width="3" height="45" fill="#00ff00"/>
<rect x="1124" y="646" width="3" height="45" fill="#00ff00"/>
<rect x="1140" y="646" width="3" height="47" fill="#00ff00"/>
<rect x="1156" y="646" width="3" height="50" fill="#00ff00"/>
<rect x="1172" y="646" width="3" height="58" fill="#00ff00"/>
<rect x="1188" y="646" width="3" height="64" fill="#00ff00"/>
<rect x="1204" y="646" width="3" height="67" fill="#00ff00"/>
<rect x="1220" y="646" width="3" height="68" fill="#00ff00"/>
<rect x="1236" y="646" width="3" height="66" fill="#00ff00"/>
<rect x="1252" y="646" width="3" height="63" fill="#00ff00"/>
<rect x="1268" y="646" width="3" height="60" fill="#00ff00"/>
<rect x="1284" y="646" width="3" height="58" fill="#00ff00"/>
<rect x="1300" y="646" width="3" height="56" fill="#00ff00"/>
<rect x="1316" y="646" width="3" height="52" fill="#00ff00"/>
<rect x="1332" y="646" width="3" height="47" fill="#00ff00"/>
<rect x="1348" y="646" width="3" height="43" fill="#00ff00"/>
<rect x="1364" y="646" width="3" height="42" fill="#00ff00"/>
<rect x="1380" y="646" width="3" height="42" fill="#00ff00"/>
<rect x="1396" y="646" width="3" height="41" fill="#00ff00"/>
<rect x="1412" y="646" width="3" height="40" fill="#00ff00"/>
<rect x="1428" y="646" width="3" height="44" fill="#00ff00"/>
<rect x="1444" y="646" width="3" height="46" fill="#00ff00"/>
<rect x="1460" y="646" width="3" height="48" fill="#00ff00"/>
<rect x="1476" y="646" width="3" height="46" fill="#00ff00"/>
<rect x="1492" y="646" width="3" height="46" fill="#00ff00"/>
<rect x="1508" y="646" width="3" height="44" fill="#00ff00"/>
<rect x="1524" y="646" width="3" height="46" fill="#00ff00"/>
<rect x="1540" y="646" width="3" height="48" fill="#00ff00"/>
<rect x="1556" y="646" width="3" height="54" fill="#00ff00"/>
<rect x="1572" y="646" width="3" height="59" fill="#00ff00"/>
<rect x="1588" y="646" width="3" height="62" fill="#00ff00"/>
<polyline points="5,622.7 21,623.0 37,625.4 53,625.9 69,625.5 85,624.5 101,621.5 117,619.9 133,619.1 149,619.1 165,619.9 181,620.2 197,623.7 213,625.7 229,628.7 245,630.6 261,632.6 277,635.0 293,636.4 309,639.7 325,642.2 341,645.2 357,647.2 373,649.7 389,653.0 405,655.1 421,657.6 437,657.6 453,657.6 469,657.6 485,654.6 501,651.7 517,648.4 533,643.4 549,638.6 565,633.5 581,629.0 597,626.2 613,624.0 629,622.7 645,622.7 661,623.2 677,624.9 693,627.8 709,630.6 725,633.5 741,635.6 757,636.4 773,637.6 789,638.9 805,640.6 821,641.7 837,643.6 853,645.5 869,648.4 885,651.8 901,655.5 917,660.4 933,664.2 949,667.2 965,670.4 981,673.2 997,675.8 1013,675.8 1029,675.8 1045,675.8 1061,675.8 1077,677.5 1093,678.6 1109,679.5 1125,681.5 1141,683.3 1157,685.3 1173,689.7 1189,692.2 1205,696.8 1221,699.3 1237,702.6 1253,704.8 1269,706.8 1285,706.8 1301,706.8 1317,706.8 1333,704.8 1349,702.0 1365,699.0 1381,697.0 1397,694.0 1413,691.9 1429,689.9 1445,688.9 1461,688.5 1477,688.5 1493,688.5 1509,689.5 1525,690.9 1541,691.9 1557,692.5 1573,694.0 1589,696.0" fill="none" stroke="#ff0000" stroke-width="2" shape-rendering="crispEdges"/>
</g>
<text x="9" y="619" class="t" style="letter-spacing:-0.09px">MACD(12,26,9) -0.003224 -0.002620</text>
<text x="1648" y="617" class="t">0.001982</text>
<text x="1648" y="650" class="t">0.00</text>
<text x="1648" y="716" class="t">-0.003804</text>
<rect x="1645" y="646" width="2" height="1" fill="#000"/>
<rect x="1645" y="718" width="2" height="1" fill="#000"/>
<line x1="6" y1="745.5" x2="1644" y2="745.5" stroke="#000" stroke-width="1" stroke-dasharray="3,3" shape-rendering="crispEdges"/>
<line x1="6" y1="778.5" x2="1644" y2="778.5" stroke="#000" stroke-width="1" stroke-dasharray="3,3" shape-rendering="crispEdges"/>
<line x1="6" y1="817.5" x2="1644" y2="817.5" stroke="#000" stroke-width="1" stroke-dasharray="3,3" shape-rendering="crispEdges"/>
<g clip-path="url(#cr)">
<polyline points="5,764.6 21,764.6 37,768.6 53,767.0 69,766.8 85,766.8 101,771.8 117,777.1 133,775.3 149,773.9 165,777.3 181,779.7 197,788.7 213,772.7 229,777.7 245,778.7 261,778.7 277,780.3 293,778.7 309,787.7 325,787.7 341,787.7 357,782.9 373,782.9 389,786.9 405,778.7 421,776.3 437,775.7 453,769.8 469,769.2 485,768.6 501,767.2 517,765.8 533,764.2 549,759.2 565,767.6 581,764.6 597,781.7 613,781.7 629,779.7 645,774.7 661,779.0 677,781.7 693,777.9 709,778.3 725,779.7 741,773.9 757,772.7 773,775.9 789,780.3 805,785.3 821,785.9 837,786.9 853,791.7 869,794.4 885,795.8 901,792.3 917,791.3 933,787.7 949,789.9 965,793.8 981,788.3 997,781.0 1013,780.3 1029,783.9 1045,794.8 1061,794.8 1077,797.8 1093,797.8 1109,797.8 1125,793.8 1141,797.8 1157,800.0 1173,806.8 1189,806.8 1205,806.8 1221,804.0 1237,795.8 1253,795.8 1269,795.8 1285,795.0 1301,795.0 1317,790.7 1333,788.6 1349,787.7 1365,795.9 1381,795.9 1397,794.8 1413,794.8 1429,804.7 1445,804.7 1461,803.6 1477,797.0 1493,797.0 1509,797.0 1525,802.5 1541,802.9 1557,810.6 1573,810.6 1589,810.6" fill="none" stroke="#1e90ff" stroke-width="2" shape-rendering="crispEdges"/>
</g>
<text x="9" y="734" class="t">RSI(14) 19.8429</text>
<text x="1648" y="732" class="t">100</text>
<rect x="1645" y="723" width="2" height="1" fill="#000"/>
<text x="1648" y="749" class="t">80</text>
<text x="1648" y="782" class="t">50</text>
<text x="1648" y="821" class="t">15</text>
<text x="1648" y="831" class="t">0</text>
<rect x="1645" y="833" width="2" height="1" fill="#000"/>
<rect x="5" y="835" width="1" height="3" fill="#000"/>
<text x="4" y="847" class="t">26 Apr 2023</text>
<rect x="69" y="835" width="1" height="3" fill="#000"/>
<text x="68" y="847" class="t">27 Apr 00:00</text>
<rect x="133" y="835" width="1" height="3" fill="#000"/>
<text x="132" y="847" class="t">27 Apr 16:00</text>
<rect x="197" y="835" width="1" height="3" fill="#000"/>
<text x="196" y="847" class="t">28 Apr 08:00</text>
<rect x="261" y="835" width="1" height="3" fill="#000"/>
<text x="260" y="847" class="t">1 May 00:00</text>
<rect x="325" y="835" width="1" height="3" fill="#000"/>
<text x="324" y="847" class="t">1 May 16:00</text>
<rect x="389" y="835" width="1" height="3" fill="#000"/>
<text x="388" y="847" class="t">2 May 08:00</text>
<rect x="453" y="835" width="1" height="3" fill="#000"/>
<text x="452" y="847" class="t">3 May 00:00</text>
<rect x="517" y="835" width="1" height="3" fill="#000"/>
<text x="516" y="847" class="t">3 May 16:00</text>
<rect x="581" y="835" width="1" height="3" fill="#000"/>
<text x="580" y="847" class="t">4 May 08:00</text>
<rect x="645" y="835" width="1" height="3" fill="#000"/>
<text x="644" y="847" class="t">5 May 00:00</text>
<rect x="709" y="835" width="1" height="3" fill="#000"/>
<text x="708" y="847" class="t">5 May 16:00</text>
<rect x="773" y="835" width="1" height="3" fill="#000"/>
<text x="772" y="847" class="t">8 May 08:00</text>
<rect x="837" y="835" width="1" height="3" fill="#000"/>
<text x="836" y="847" class="t">9 May 00:00</text>
<rect x="901" y="835" width="1" height="3" fill="#000"/>
<text x="900" y="847" class="t">9 May 16:00</text>
<rect x="965" y="835" width="1" height="3" fill="#000"/>
<text x="964" y="847" class="t">10 May 08:00</text>
<rect x="1029" y="835" width="1" height="3" fill="#000"/>
<text x="1028" y="847" class="t">11 May 00:00</text>
<rect x="1093" y="835" width="1" height="3" fill="#000"/>
<text x="1092" y="847" class="t">11 May 16:00</text>
<rect x="1157" y="835" width="1" height="3" fill="#000"/>
<text x="1156" y="847" class="t">12 May 08:00</text>
<rect x="1221" y="835" width="1" height="3" fill="#000"/>
<text x="1220" y="847" class="t">15 May 00:00</text>
<rect x="1285" y="835" width="1" height="3" fill="#000"/>
<text x="1284" y="847" class="t">15 May 16:00</text>
<rect x="1349" y="835" width="1" height="3" fill="#000"/>
<text x="1348" y="847" class="t">16 May 08:00</text>
<rect x="1413" y="835" width="1" height="3" fill="#000"/>
<text x="1412" y="847" class="t">17 May 00:00</text>
<rect x="1477" y="835" width="1" height="3" fill="#000"/>
<text x="1476" y="847" class="t">17 May 16:00</text>
<rect x="1541" y="835" width="1" height="3" fill="#000"/>
<text x="1540" y="847" class="t">18 May 08:00</text>
<path d="M8 34h7l-3.5 4z" fill="#000"/>
<text x="20.5" y="39" class="t" style="letter-spacing:-0.14px" xml:space="preserve">EURUSD-,H4  1.07735 1.07745 1.07690 1.07694</text>
</g>
</svg>
</body></html>
